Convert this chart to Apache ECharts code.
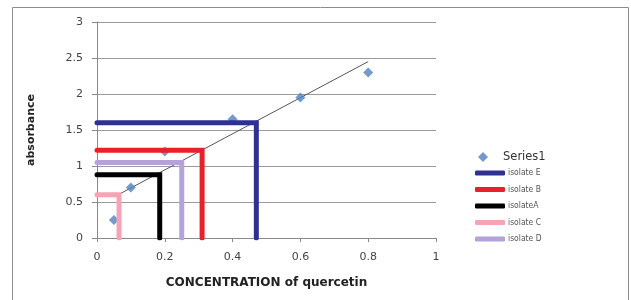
<!DOCTYPE html>
<html>
<head>
<meta charset="utf-8">
<script src="https://cdn.jsdelivr.net/npm/echarts@6/dist/echarts.min.js"></script>
<style>
  html, body { margin: 0; padding: 0; background: #fff; }
  #chart { width: 631px; height: 300px; }
</style>
</head>
<body>
<div id="chart"></div>
<script>
// measured points (Series1)
var concX = [0.05, 0.1, 0.2, 0.4, 0.6, 0.8];
var absY = [0.25, 0.7, 1.2, 1.65, 1.95, 2.3];
// linear trend line ends
var trendX = [0.05, 0.8];
var trendY = [0.57, 2.45];
var isolateNames = ['isolate E', 'isolate B', 'isolateA', 'isolate C', 'isolate D'];
var isolateConc = [0.47, 0.31, 0.185, 0.065, 0.25];
var isolateAbs = [1.6, 1.22, 0.88, 0.6, 1.05];
var isolateColors = ['#2e3192', '#e8202a', '#000000', '#f5a3b5', '#b3a3d8'];
var yTicks = [0, 0.5, 1, 1.5, 2, 2.5, 3];
var xTicks = [0, 0.2, 0.4, 0.6, 0.8, 1];

var chart = echarts.init(document.getElementById('chart'));

var series = [
  {
    name: 'Series1',
    type: 'scatter',
    symbol: 'diamond',
    symbolSize: 10,
    itemStyle: { color: '#4f81bd' },
    data: concX.map(function (x, i) { return [x, absY[i]]; }),
    z: 3
  },
  {
    name: 'trend',
    type: 'line',
    symbol: 'none',
    silent: true,
    lineStyle: { color: '#555', width: 1 },
    data: trendX.map(function (x, i) { return [x, trendY[i]]; }),
    z: 2
  }
];
isolateNames.forEach(function (n, i) {
  series.push({
    name: n,
    type: 'line',
    symbol: 'none',
    color: isolateColors[i],
    lineStyle: { color: isolateColors[i], width: 5, cap: 'round', join: 'miter' },
    data: [[0, isolateAbs[i]], [isolateConc[i], isolateAbs[i]], [isolateConc[i], 0]],
    z: 4
  });
});

chart.setOption({
  animation: false,
  grid: { left: 97, right: 195, top: 22, bottom: 62 },
  xAxis: {
    type: 'value',
    min: 0, max: 1, interval: 0.2,
    name: 'CONCENTRATION of quercetin',
    nameLocation: 'middle',
    nameGap: 39,
    nameTextStyle: { fontFamily: 'DejaVu Sans', fontWeight: 'bold', fontSize: 12, color: '#222' },
    axisLine: { lineStyle: { color: '#8a8a8a' } },
    axisTick: { show: true, length: 4, lineStyle: { color: '#8a8a8a' } },
    splitLine: { show: false },
    axisLabel: {
      fontFamily: 'DejaVu Sans', fontSize: 11, color: '#444', margin: 14,
      formatter: function (v) { return xTicks.indexOf(v) >= 0 ? String(v) : ''; }
    }
  },
  yAxis: {
    type: 'value',
    min: 0, max: 3, interval: 0.5,
    name: 'absorbance',
    nameLocation: 'middle',
    nameGap: 60,
    nameRotate: 90,
    nameTextStyle: { fontFamily: 'DejaVu Sans', fontWeight: 'bold', fontSize: 11, color: '#222' },
    axisLine: { show: true, lineStyle: { color: '#8a8a8a' } },
    axisTick: { show: true, length: 5, lineStyle: { color: '#8a8a8a' } },
    splitLine: { show: true, lineStyle: { color: '#9a9a9a' } },
    axisLabel: {
      fontFamily: 'DejaVu Sans', fontSize: 11, color: '#444', margin: 14,
      formatter: function (v) { return yTicks.indexOf(v) >= 0 ? String(v) : ''; }
    }
  },
  legend: [
    {
      data: ['Series1'],
      left: 478, top: 151,
      padding: 0,
      icon: 'diamond',
      itemWidth: 10, itemHeight: 10,
      itemGap: 0,
      textStyle: { fontFamily: 'DejaVu Sans', fontSize: 11.5, color: '#333', padding: [0, 0, 0, 10] }
    },
    {
      data: isolateNames,
      orient: 'vertical',
      left: 475, top: 167,
      padding: 0,
      icon: 'roundRect',
      itemWidth: 30, itemHeight: 5,
      itemGap: 4.5,
      textStyle: { fontFamily: 'DejaVu Sans Condensed', fontSize: 8.5, color: '#555', lineHeight: 12, padding: [0, 0, 0, -2] }
    }
  ],
  graphic: [
    {
      type: 'rect',
      shape: { x: 12.5, y: 7.5, width: 616, height: 310 },
      style: { fill: 'none', stroke: '#8c8c8c', lineWidth: 1 },
      silent: true
    }
  ],
  series: series
});
</script>
</body>
</html>
